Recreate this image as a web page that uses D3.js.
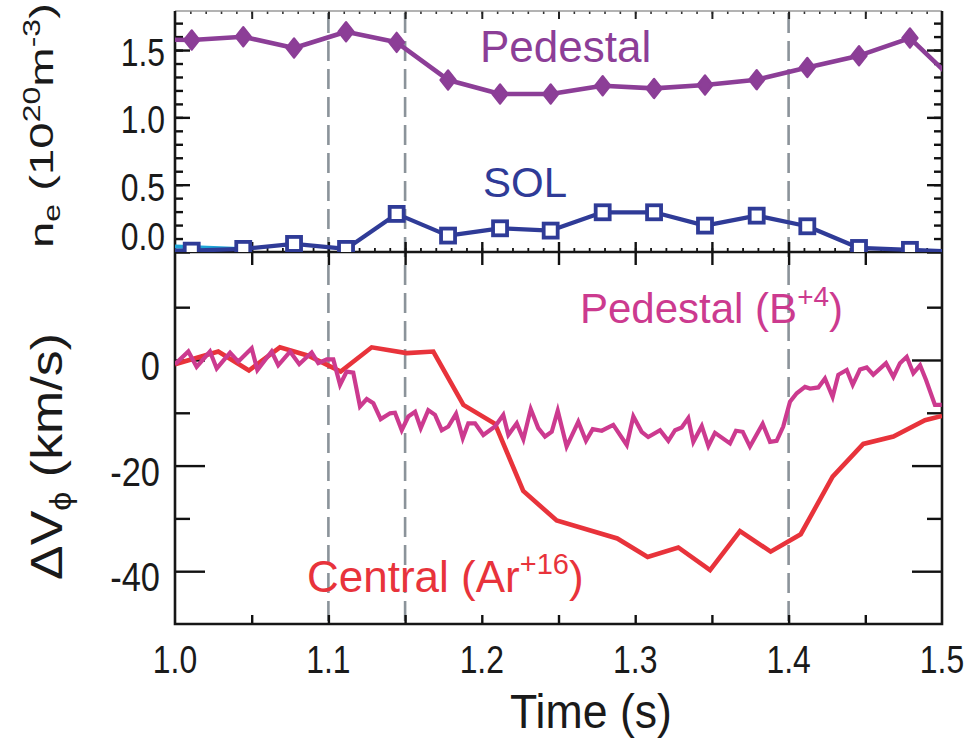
<!DOCTYPE html>
<html>
<head>
<meta charset="utf-8">
<script src="https://cdn.jsdelivr.net/npm/d3@7"></script>
<style>
  body { margin: 0; background: #fff; }
  svg { display: block; }
  text { font-family: "Liberation Sans", Arial, sans-serif; }
</style>
</head>
<body>
<svg id="chart" width="979" height="739"></svg>
<script>
// ---- density panel: sample times (s) shared by both series ----
const neTimes = [0.9774, 1.0109, 1.0445, 1.0776, 1.1115, 1.1445, 1.1780, 1.2119, 1.2449,
                 1.2788, 1.3123, 1.3455, 1.3792, 1.4122, 1.4459, 1.4791, 1.5124];
// pedestal density (10^20 m^-3)
const pedestalNe = [1.58, 1.575, 1.599, 1.515, 1.636, 1.557, 1.278, 1.174, 1.174,
                    1.235, 1.215, 1.240, 1.280, 1.371, 1.458, 1.589, 1.224];
// scrape-off-layer density (10^20 m^-3)
const solNe = [0.01, 0.01, 0.023, 0.06, 0.023, 0.283, 0.122, 0.176, 0.159,
               0.295, 0.295, 0.196, 0.270, 0.191, 0.03, 0.016, 0.0];
// short trace near zero at the start
const baseTimes = [1.000, 1.046];
const baseNe = [0.04, 0.02];

// ---- rotation panel ----
// central Ar+16 rotation change (km/s)
const centralTimes = [1.000, 1.0282, 1.0482, 1.0684, 1.0869, 1.1080, 1.1282, 1.1510, 1.1684,
                      1.1880, 1.2086, 1.2270, 1.2488, 1.2883, 1.3081, 1.3281, 1.3488, 1.3683,
                      1.3883, 1.4079, 1.4287, 1.4487, 1.4683, 1.4889, 1.5000];
const centralV = [-0.8, 1.6, -2.0, 2.4, 0.8, -2.2, 2.4, 1.3, 1.6,
                  -8.5, -12.1, -24.8, -30.4, -33.8, -37.3, -35.5, -39.8, -32.4,
                  -36.3, -33.0, -22.1, -15.9, -14.5, -11.4, -10.6];
// pedestal B+4 rotation change (km/s)
const boronTimes = [1.0000,1.0087,1.0141,1.0228,1.0272,1.0359,1.0413,1.0500,1.0537,1.0630,
                    1.0673,1.0750,1.0810,1.0891,1.0934,1.0989,1.1032,1.1076,1.1119,1.1162,
                    1.1206,1.1250,1.1293,1.1341,1.1402,1.1434,1.1478,1.1521,1.1565,1.1602,
                    1.1651,1.1695,1.1739,1.1782,1.1832,1.1876,1.1912,1.1956,1.2010,1.2086,
                    1.2140,1.2173,1.2228,1.2271,1.2319,1.2368,1.2412,1.2456,1.2495,1.2553,
                    1.2629,1.2679,1.2723,1.2782,1.2857,1.2945,1.2988,1.3042,1.3085,1.3162,
                    1.3216,1.3260,1.3303,1.3346,1.3379,1.3434,1.3477,1.3520,1.3618,1.3657,
                    1.3701,1.3748,1.3831,1.3879,1.3922,1.3965,1.4009,1.4053,1.4107,1.4140,
                    1.4194,1.4237,1.4287,1.4324,1.4379,1.4418,1.4465,1.4509,1.4552,1.4635,
                    1.4683,1.4726,1.4770,1.4813,1.4857,1.4896,1.4954,1.4998];
const boronV = [-0.8,1.6,-1.3,1.6,-1.6,1.4,-0.3,2.2,-1.9,1.6,
                -1.0,1.6,-0.8,1.4,-0.6,0.1,0.1,-4.7,-2.2,-2.4,
                -8.8,-7.4,-8.2,-11.2,-10.1,-10.0,-13.3,-10.7,-9.8,-12.9,
                -9.5,-10.4,-13.3,-12.6,-10.2,-14.8,-12.0,-12.0,-14.2,-12.6,
                -10.4,-14.2,-12.0,-15.0,-9.3,-12.9,-14.5,-13.6,-9.6,-16.4,
                -11.7,-15.3,-13.1,-13.4,-12.3,-16.1,-10.7,-13.6,-14.6,-13.3,
                -15.3,-13.3,-12.8,-11.0,-15.5,-12.5,-16.3,-13.8,-15.8,-13.4,
                -13.6,-16.4,-12.1,-15.5,-15.3,-12.6,-7.9,-6.3,-5.1,-5.4,
                -5.2,-3.5,-7.0,-2.8,-1.9,-4.7,-1.8,-1.4,-2.8,-0.6,
                -3.2,-0.6,0.6,-2.5,-1.0,-3.8,-8.5,-8.5];

// vertical reference times (s)
const markerTimes = [1.10, 1.15, 1.40];

// tick labels
const timeTicks = [1.0, 1.1, 1.2, 1.3, 1.4, 1.5];
const neTicks = [0.0, 0.5, 1.0, 1.5];
const vTicks = [0, -20, -40];

const colors = {
  pedestal: "#8c3e97",
  sol: "#2f3b97",
  base: "#1ea4d6",
  boron: "#cc3a8f",
  central: "#e8333b",
  guide: "#8b939a"
};

const svg = d3.select("#chart");
const L = 175, R = 942, T = 11, M = 252, B = 624;

const x = d3.scaleLinear().domain([1.0, 1.5]).range([L, R]);
const yTop = d3.scaleLinear().domain([0, 1.79]).range([M, T]);
const yBot = d3.scaleLinear().domain([-50, 20.45]).range([B, M]);

const defs = svg.append("defs");
defs.append("clipPath").attr("id", "clipTop")
  .append("rect").attr("x", L).attr("y", T).attr("width", R - L).attr("height", M - T);
defs.append("clipPath").attr("id", "clipBot")
  .append("rect").attr("x", L).attr("y", M).attr("width", R - L).attr("height", B - M);

// dashed time markers across both panels
svg.append("g").selectAll("line").data(markerTimes).join("line")
  .attr("x1", d => x(d)).attr("x2", d => x(d))
  .attr("y1", T + 2).attr("y2", B)
  .attr("stroke", colors.guide).attr("stroke-width", 2.6)
  .attr("stroke-dasharray", "20,8");

// ---- axes helpers ----
function ticks(axis, transform, values, size, width, color) {
  const g = svg.append("g").attr("transform", transform)
    .call(axis.tickValues(values).tickSize(size).tickSizeOuter(0).tickFormat(""));
  g.select(".domain").remove();
  g.selectAll("line").attr("stroke", color || "#111").attr("stroke-width", width);
  return g;
}
const range = (a, b, s) => d3.range(Math.round(a / s), Math.round(b / s) + 1).map(k => +(k * s).toFixed(4));

// top panel ticks
ticks(d3.axisLeft(yTop), `translate(${L},0)`, range(0.1, 1.7, 0.1), -8, 2.4);
ticks(d3.axisLeft(yTop), `translate(${L},0)`, neTicks, -15, 2.4);
ticks(d3.axisRight(yTop), `translate(${R},0)`, range(0.1, 1.7, 0.1), -8, 2.4);
ticks(d3.axisRight(yTop), `translate(${R},0)`, neTicks, -15, 2.4);
ticks(d3.axisTop(x), `translate(0,${T})`, range(1.01, 1.49, 0.01), -3, 1.6, "#333");
ticks(d3.axisTop(x), `translate(0,${T})`, range(1.05, 1.45, 0.05), -8, 2, "#222");
ticks(d3.axisBottom(x), `translate(0,${M})`, range(1.01, 1.49, 0.01), -4, 1.8);
ticks(d3.axisBottom(x), `translate(0,${M})`, range(1.05, 1.45, 0.05), -10, 2.4);

// bottom panel ticks
ticks(d3.axisTop(x), `translate(0,${M})`, range(1.05, 1.45, 0.05), -13, 2.4);
ticks(d3.axisBottom(x), `translate(0,${B})`, range(1.05, 1.45, 0.05), -9, 2.4);
ticks(d3.axisLeft(yBot), `translate(${L},0)`, [10, -10, -30], -15, 2.4);
ticks(d3.axisLeft(yBot), `translate(${L},0)`, vTicks, -30, 2.4);
ticks(d3.axisRight(yBot), `translate(${R},0)`, [10, -10, -30], -15, 2.4);
ticks(d3.axisRight(yBot), `translate(${R},0)`, vTicks, -30, 2.4);

// frames
const frame = svg.append("g").attr("fill", "none");
frame.append("line").attr("x1", L).attr("x2", R).attr("y1", T).attr("y2", T)
  .attr("stroke", "#9a9a9a").attr("stroke-width", 1.3);
frame.append("path")
  .attr("d", `M${L},${T}V${B}H${R}V${T}M${L},${M}H${R}`)
  .attr("stroke", "#161616").attr("stroke-width", 2.6);

// ---- density series ----
const topPanel = svg.append("g").attr("clip-path", "url(#clipTop)");
const lineTop = d3.line().x(d => x(d[0])).y(d => yTop(d[1]));
const pedData = d3.zip(neTimes, pedestalNe);
const solData = d3.zip(neTimes, solNe);

topPanel.append("path").datum(d3.zip(baseTimes, baseNe)).attr("d", lineTop)
  .attr("fill", "none").attr("stroke", colors.base).attr("stroke-width", 4);
topPanel.append("path").datum(solData).attr("d", lineTop)
  .attr("fill", "none").attr("stroke", colors.sol).attr("stroke-width", 4.2)
  .attr("stroke-linejoin", "round");
topPanel.selectAll(".sq").data(solData.filter(d => d[0] >= 1 && d[0] <= 1.5)).join("rect")
  .attr("class", "sq")
  .attr("x", d => x(d[0]) - 7).attr("y", d => yTop(d[1]) - 7)
  .attr("width", 14).attr("height", 14)
  .attr("fill", "#fff").attr("stroke", colors.sol).attr("stroke-width", 3.8);
topPanel.append("path").datum(pedData).attr("d", lineTop)
  .attr("fill", "none").attr("stroke", colors.pedestal).attr("stroke-width", 4.6)
  .attr("stroke-linejoin", "round");
topPanel.selectAll(".dia").data(pedData.filter(d => d[0] >= 1 && d[0] <= 1.5)).join("path")
  .attr("class", "dia")
  .attr("d", d => {
    const cx = x(d[0]), cy = yTop(d[1]);
    return `M${cx},${cy - 9.5}L${cx + 7.5},${cy}L${cx},${cy + 9.5}L${cx - 7.5},${cy}Z`;
  })
  .attr("fill", colors.pedestal).attr("stroke", colors.pedestal).attr("stroke-width", 2.4)
  .attr("stroke-linejoin", "round");

// ---- rotation series ----
const botPanel = svg.append("g").attr("clip-path", "url(#clipBot)");
const lineBot = d3.line().x(d => x(d[0])).y(d => yBot(d[1]));
botPanel.append("path").datum(d3.zip(centralTimes, centralV)).attr("d", lineBot)
  .attr("fill", "none").attr("stroke", colors.central).attr("stroke-width", 4.6)
  .attr("stroke-linejoin", "miter");
botPanel.append("path").datum(d3.zip(boronTimes, boronV)).attr("d", lineBot)
  .attr("fill", "none").attr("stroke", colors.boron).attr("stroke-width", 4.2)
  .attr("stroke-linejoin", "miter");

// ---- tick labels (condensed numerals) ----
const labels = svg.append("g").attr("fill", "#1a1a1a");
function numLabel(px, py, anchor, size, str) {
  labels.append("text")
    .attr("transform", `translate(${px},${py}) scale(0.84,1)`)
    .attr("text-anchor", anchor).attr("font-size", size).text(str);
}
timeTicks.forEach(d => numLabel(x(d), 673, "middle", 38, d.toFixed(1)));
neTicks.forEach(d => numLabel(165, d === 0 ? yTop(d) - 2 : yTop(d) + 16, "end", 38, d.toFixed(1)));
vTicks.forEach(d => numLabel(160, yBot(d) + 20, "end", 41, d));

// stretch a text element along its reading direction to a given length
function fit(sel, length, tx, ty, rot) {
  const w = sel.node().getBBox().width;
  sel.attr("transform", `translate(${tx},${ty}) rotate(${rot}) scale(${length / w},1)`);
}

// ---- axis titles ----
const neTitle = svg.append("text").attr("font-size", 34).attr("fill", "#1a1a1a");
neTitle.append("tspan").text("n");
neTitle.append("tspan").attr("font-size", 23).attr("dy", 7).text("e");
neTitle.append("tspan").attr("dy", -7).text(" (10");
neTitle.append("tspan").attr("font-size", 23).attr("dy", -13).text("20");
neTitle.append("tspan").attr("dy", 13).text("m");
neTitle.append("tspan").attr("font-size", 23).attr("dy", -13).text("-3");
neTitle.append("tspan").attr("dy", 13).text(")");
fit(neTitle, 245, 53, 248, -90);

const vTitle = svg.append("text").attr("font-size", 44).attr("fill", "#1a1a1a");
vTitle.append("tspan").text("\u0394V");
vTitle.append("tspan").attr("font-size", 29).attr("dy", 9).text("\u03d5");
vTitle.append("tspan").attr("dy", -9).text(" (km/s)");
fit(vTitle, 247, 62, 580, -90);

const tTitle = svg.append("text").attr("font-size", 48).attr("fill", "#1a1a1a").text("Time (s)");
fit(tTitle, 162, 510, 728, 0);

// ---- series annotations ----
svg.append("text").attr("x", 480).attr("y", 62).attr("font-size", 44)
  .attr("fill", colors.pedestal).text("Pedestal");
svg.append("text").attr("x", 483).attr("y", 197).attr("font-size", 42)
  .attr("fill", colors.sol).text("SOL");
const bLab = svg.append("text").attr("x", 580).attr("y", 323).attr("font-size", 42)
  .attr("fill", colors.boron);
bLab.append("tspan").text("Pedestal (B");
bLab.append("tspan").attr("font-size", 28).attr("dy", -17).text("+4");
bLab.append("tspan").attr("dy", 17).text(")");
const cLab = svg.append("text").attr("x", 307).attr("y", 592).attr("font-size", 44)
  .attr("fill", colors.central);
cLab.append("tspan").text("Central (Ar");
cLab.append("tspan").attr("font-size", 29).attr("dy", -18).text("+16");
cLab.append("tspan").attr("dy", 18).text(")");
</script>
</body>
</html>
